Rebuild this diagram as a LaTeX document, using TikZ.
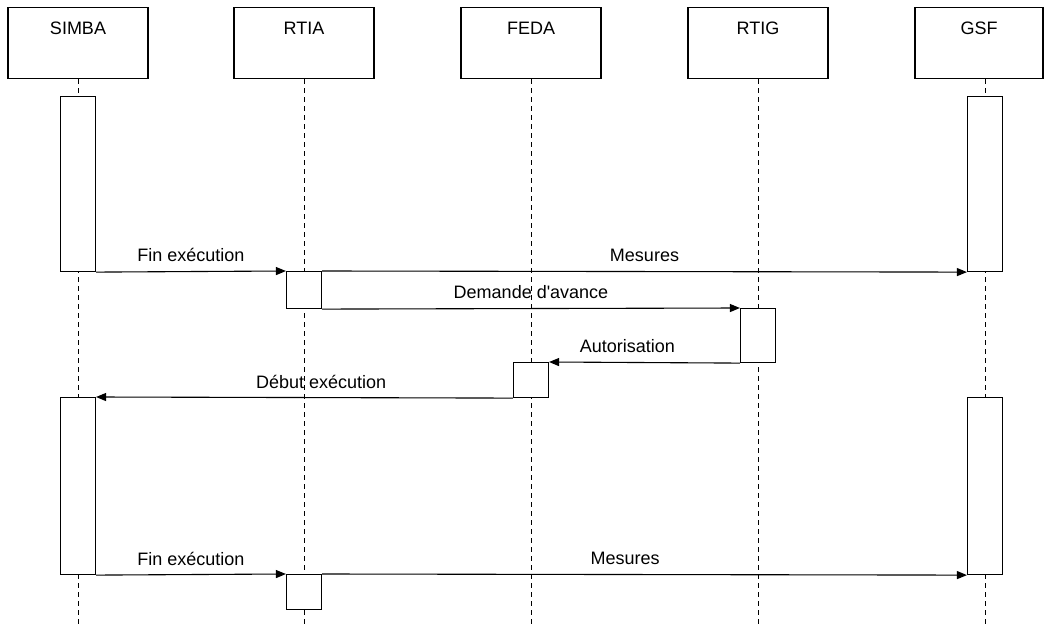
\documentclass[tikz,border=0pt]{standalone}
\usepackage{fontspec}
\setmainfont{Liberation Sans}
\usepackage{tikz}
\usetikzlibrary{arrows.meta, backgrounds}

\begin{document}
\begin{tikzpicture}[x=1pt, y=-1pt, line width=1.1pt,
    head/.style={draw, anchor=north, minimum width=140pt, inner ysep=15pt,
      text height=12pt, text depth=29pt, font=\fontsize{18}{20}\selectfont},
    act/.style={draw, fill=white, anchor=north, minimum width=35pt, inner sep=0pt},
    life/.style={dash pattern=on 5pt off 4pt},
    msg/.style={-{Triangle[length=10pt, width=8pt]}},
    lbl/.style={above, inner ysep=9pt, text depth=0pt, font=\fontsize{18}{20}\selectfont}]
        \useasboundingbox (0,0) rectangle (1044,628);
        \coordinate (end) at (0,628);

        \node[head] (simba) at (78,7) {SIMBA};
        \node[head] (rtia) at (304,7) {RTIA};
        \node[head] (feda) at (531,7) {FEDA};
        \node[head] (rtig) at (758,7) {RTIG};
        \node[head, minimum width=128pt] (gsf) at (979,7) {GSF};

        \node[act, minimum height=175pt] (simba1) at (78,96) {};
        \node[act, minimum height=175pt] (gsf1) at (985,96) {};
        \node[act, minimum height=37pt] (rtia1) at (304,271) {};
        \node[act, minimum height=54pt] (rtig1) at (758,308) {};
        \node[act, minimum height=35pt] (feda1) at (531,362) {};
        \node[act, minimum height=177pt] (simba2) at (78,397) {};
        \node[act, minimum height=177pt] (gsf2) at (985,397) {};
        \node[act, minimum height=35pt] (rtia2) at (304,574) {};

        \begin{scope}[on background layer]
            \foreach \n/\a in {simba/simba1, rtia/rtia1, feda/feda1, rtig/rtig1, gsf/gsf1}
                \draw[life] (\a.north |- \n.south) -- (\a.north |- end);
        \end{scope}

        \draw[msg] (simba1.south east) -- node[lbl] {Fin exécution} (rtia1.north west);
        \draw[msg] (rtia1.north east) -- node[lbl] {Mesures} (gsf1.south west);
        \draw[msg] (rtia1.south east) -- node[lbl] {Demande d\textquotesingle avance} (rtig1.north west);
        \draw[msg] (rtig1.south west) -- node[lbl, pos=0.59] {Autorisation} (feda1.north east);
        \draw[msg] (feda1.south west) -- node[lbl, pos=0.46] {Début exécution} (simba2.north east);
        \draw[msg] (simba2.south east) -- node[lbl] {Fin exécution} (rtia2.north west);
        \draw[msg] (rtia2.north east) -- node[lbl, pos=0.47] {Mesures} (gsf2.south west);
\end{tikzpicture}
\end{document}
